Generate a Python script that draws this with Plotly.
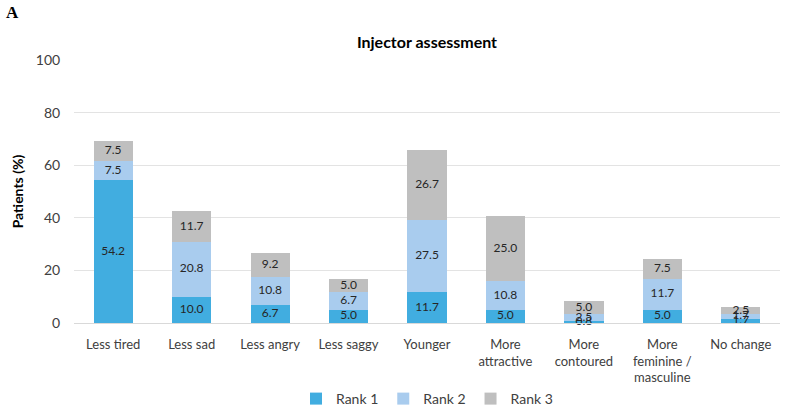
import plotly.graph_objects as go

categories = ["Less tired", "Less sad", "Less angry", "Less saggy", "Younger",
              "More<br>attractive", "More<br>contoured", "More<br>feminine /<br>masculine", "No change"]
rank1 = [54.2, 10.0, 6.7, 5.0, 11.7, 5.0, 0.8, 5.0, 1.7]
rank2 = [7.5, 20.8, 10.8, 6.7, 27.5, 10.8, 2.5, 11.7, 1.7]
rank3 = [7.5, 11.7, 9.2, 5.0, 26.7, 25.0, 5.0, 7.5, 2.5]
series_names = ["Rank 1", "Rank 2", "Rank 3"]
colors = ["#41ADE0", "#A9CCEE", "#BFBFBF"]

FONT = "Lato, Carlito, Calibri, sans-serif"

fig = go.Figure()
series = [rank1, rank2, rank3]
base = [0.0] * len(categories)
for name, vals, col in zip(series_names, series, colors):
    fig.add_trace(go.Bar(
        x=categories, y=vals, name=name, marker_color=col, marker_line_width=0,
        hoverinfo="skip",
    ))
    mids = [b + v / 2 for b, v in zip(base, vals)]
    fig.add_trace(go.Scatter(
        x=categories, y=mids, mode="text", text=[f"{v:.1f}" for v in vals],
        textposition="middle center", showlegend=False, hoverinfo="skip",
        textfont=dict(size=12, color="#262626", family=FONT), cliponaxis=False,
    ))
    base = [b + v for b, v in zip(base, vals)]

fig.update_layout(
    barmode="stack", bargap=0.5,
    width=786, height=410,
    margin=dict(l=74, r=6, t=60, b=87, autoexpand=False),
    paper_bgcolor="white", plot_bgcolor="white",
    font=dict(family=FONT, size=13, color="#404040"),
    title=dict(text="<b>Injector assessment</b>", x=(427) / 786, xanchor="center",
               y=1 - 42 / 410, yanchor="middle", yref="container",
               font=dict(size=16, color="#000000", family=FONT)),
    legend=dict(orientation="h", x=0.5, xanchor="center", xref="paper",
                y=1 - 399 / 410, yanchor="middle", yref="container",
                font=dict(size=14, color="#404040"), itemwidth=30,
                traceorder="normal"),
    showlegend=True,
)
fig.update_yaxes(range=[0, 100], dtick=20, showgrid=True, gridcolor="#E3E3E3",
                 gridwidth=1, zeroline=False, showline=False, automargin=False,
                 ticks="outside", ticklen=10, tickcolor="rgba(0,0,0,0)",
                 tickfont=dict(size=14, color="#404040"),
                 title=dict(text="<b>Patients (%)</b>", standoff=8,
                            font=dict(size=14, color="#000000")))
fig.update_xaxes(showline=True, linecolor="#D9D9D9", linewidth=1, showgrid=False,
                 automargin=False,
                 ticks="outside", ticklen=9, tickcolor="rgba(0,0,0,0)",
                 tickfont=dict(size=13, color="#404040"), tickangle=0)

fig.add_annotation(text="<b>A</b>", xref="paper", yref="paper",
                   x=(4 - 74) / 706, xanchor="left", y=(323 - 13) / 263, yanchor="middle",
                   showarrow=False, font=dict(family="Liberation Serif, Times New Roman, serif",
                                              size=17, color="#000000"))

fig.write_html("out.html")
